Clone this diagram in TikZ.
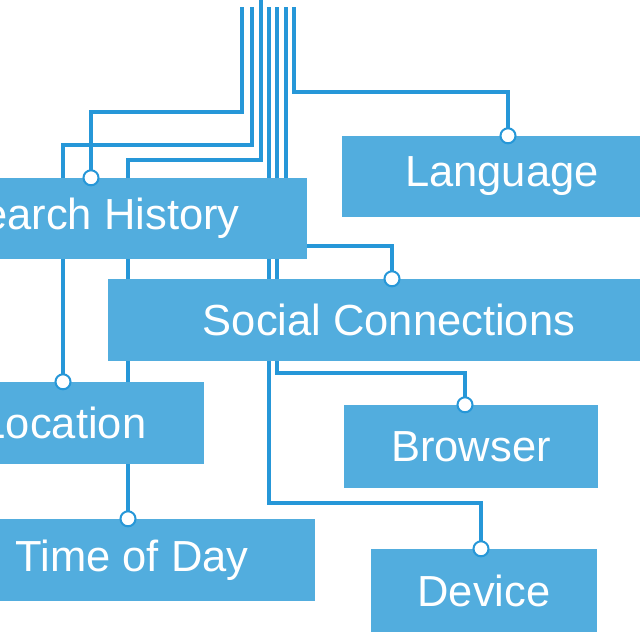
\documentclass[tikz,border=0pt]{standalone}
\usepackage{fontspec}
\setmainfont{Liberation Sans}
\usetikzlibrary{backgrounds}
\definecolor{boxblue}{HTML}{52ADDE}
\definecolor{lineblue}{HTML}{2697D8}
\tikzset{
  catbox/.style={fill=boxblue, draw=none, inner sep=0pt, text=white,
    font=\fontsize{43.5}{50}\selectfont},
  conn/.style={draw=lineblue, line width=3.2pt},
  dot/.style={circle, fill=white, draw=lineblue, line width=2pt, inner sep=0pt, minimum size=15pt}
}
\begin{document}
\begin{tikzpicture}[x=1pt,y=-1pt]
\useasboundingbox (0,0) rectangle (640,640);
\clip (0,0) rectangle (640,640);
% boxes
\node[catbox, minimum width=320pt, minimum height=81pt] (lang) at (502,176.5) {Language};
\node[catbox, minimum width=420pt, minimum height=81pt] (sh) at (97,218.5) {Search History};
\node[catbox, minimum width=562pt, minimum height=82pt] (soc) at (389,320) {Social Connections};
\node[catbox, minimum width=280pt, minimum height=82pt] (loc) at (64,423) {Location};
\node[catbox, minimum width=254pt, minimum height=83pt] (brw) at (471,446.5) {Browser};
\node[catbox, minimum width=366pt, minimum height=82pt] (tod) at (132,560) {Time of Day};
\node[catbox, minimum width=226pt, minimum height=83pt] (dev) at (484,590.5) {Device};
% trunk tops
\coordinate (t1) at (242,7);
\coordinate (t2) at (252,7);
\coordinate (t3) at (261,0);
\coordinate (t4) at (269,7);
\coordinate (t5) at (277,7);
\coordinate (t6) at (286,7);
\coordinate (t7) at (294,7);
% bends
\coordinate (b1) at (91,112);
\coordinate (b2) at (63,145);
\coordinate (b3) at (128,160);
\coordinate (b4) at (481,503);
\coordinate (b5) at (465,373);
\coordinate (b6) at (392,246);
\coordinate (b7) at (508,92);
% attachment points
\coordinate (a1) at (sh.north -| b1);
\coordinate (a2) at (loc.north -| b2);
\coordinate (a3) at (tod.north -| b3);
\coordinate (a4) at (dev.north -| b4);
\coordinate (a5) at (brw.north -| b5);
\coordinate (a6) at (soc.north -| b6);
\coordinate (a7) at (lang.north -| b7);
\begin{pgfonlayer}{background}
\draw[conn] (t1) |- (b1) -- (a1);
\draw[conn] (t2) |- (b2) -- (a2);
\draw[conn] (t3) |- (b3) -- (a3);
\draw[conn] (t4) |- (b4) -- (a4);
\draw[conn] (t5) |- (b5) -- (a5);
\draw[conn] (t6) |- (b6) -- (a6);
\draw[conn] (t7) |- (b7) -- (a7);
\end{pgfonlayer}
% dots
\node[dot] (d1) at (a1) {};
\node[dot] (d2) at (a2) {};
\node[dot] (d3) at (a3) {};
\node[dot] (d4) at (a4) {};
\node[dot] (d5) at (a5) {};
\node[dot] (d6) at (a6) {};
\node[dot] (d7) at (a7) {};
\end{tikzpicture}
\end{document}
